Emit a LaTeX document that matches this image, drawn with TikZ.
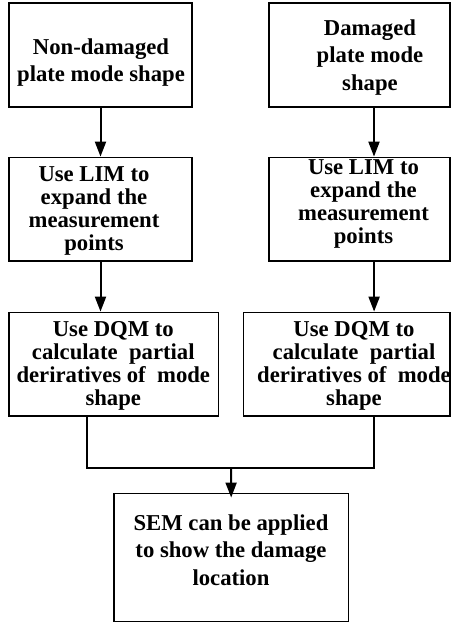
\documentclass[tikz,border=0pt]{standalone}
\usepackage{fontspec}
\setmainfont{Liberation Serif}
\usetikzlibrary{arrows.meta}

\begin{document}
\begin{tikzpicture}[x=1pt,y=-1pt,
    box/.style={draw, line width=1.5pt, inner sep=0pt},
    txt/.style={align=center, anchor=base, inner sep=0pt, font=\bfseries\fontsize{22.7}{27.3}\selectfont},
    tight/.style={font=\bfseries\fontsize{22.7}{22.8}\selectfont},
    arr/.style={line width=2pt, -{Triangle[length=15pt,width=11pt]}}]
  \useasboundingbox (0,0) rectangle (451,625);
  % boxes
  \node[box, minimum width=183, minimum height=104]   (nd1) at (100.5,55)    {};
  \node[box, minimum width=181, minimum height=104]   (dm1) at (359.5,55)    {};
  \node[box, minimum width=183, minimum height=103.7] (nd2) at (100.5,209.2) {};
  \node[box, minimum width=181, minimum height=103.7] (dm2) at (359.6,209.2) {};
  \node[box, minimum width=209.3, minimum height=103.7] (nd3) at (113.6,364.2) {};
  \node[box, minimum width=206.7, minimum height=103.7] (dm3) at (346.7,364.2) {};
  \node[box, minimum width=234.3, minimum height=128.4] (sem) at (231.2,557.5) {};
  % texts (base = last line)
  \node[txt] (nd1t) at (101,81.7) {Non-damaged\\plate mode shape};
  \node[txt] (dm1t) at (370,90) {Damaged\\plate mode\\shape};
  \node[txt, tight] (nd2t) at (94,250) {Use LIM to\\expand the\\measurement\\points};
  \node[txt, tight] (dm2t) at (363.5,243.3) {Use LIM to\\expand the\\measurement\\points};
  \node[txt, tight] (nd3t) at (113.3,405) {Use DQM to\\calculate\ \ partial\\deriratives of\ \ mode\\shape};
  \node[txt, tight] (dm3t) at (354,405) {Use DQM to\\calculate\ \ partial\\deriratives of\ \ mode\\shape};
  \node[txt] (semt) at (231,585) {SEM can be applied\\to show the damage\\location};
  % arrows
  \draw[arr] (nd1.south) -- (nd1.south |- nd2.north);
  \draw[arr] ([xshift=14.5]dm1.south) -- ([xshift=14.5]dm1.south |- dm2.north);
  \draw[arr] (nd2.south) -- (nd2.south |- nd3.north);
  \draw[arr] ([xshift=14.5]dm2.south) -- ([xshift=14.5]dm2.south |- dm3.north);
  % join to the last box
  \coordinate (jn) at (231,468);
  \draw[line width=2pt] ([xshift=-26.6]nd3.south) |- (jn) -| ([xshift=27.3]dm3.south);
  \draw[arr] (jn) -- ([yshift=-5]sem.north);
\end{tikzpicture}
\end{document}
